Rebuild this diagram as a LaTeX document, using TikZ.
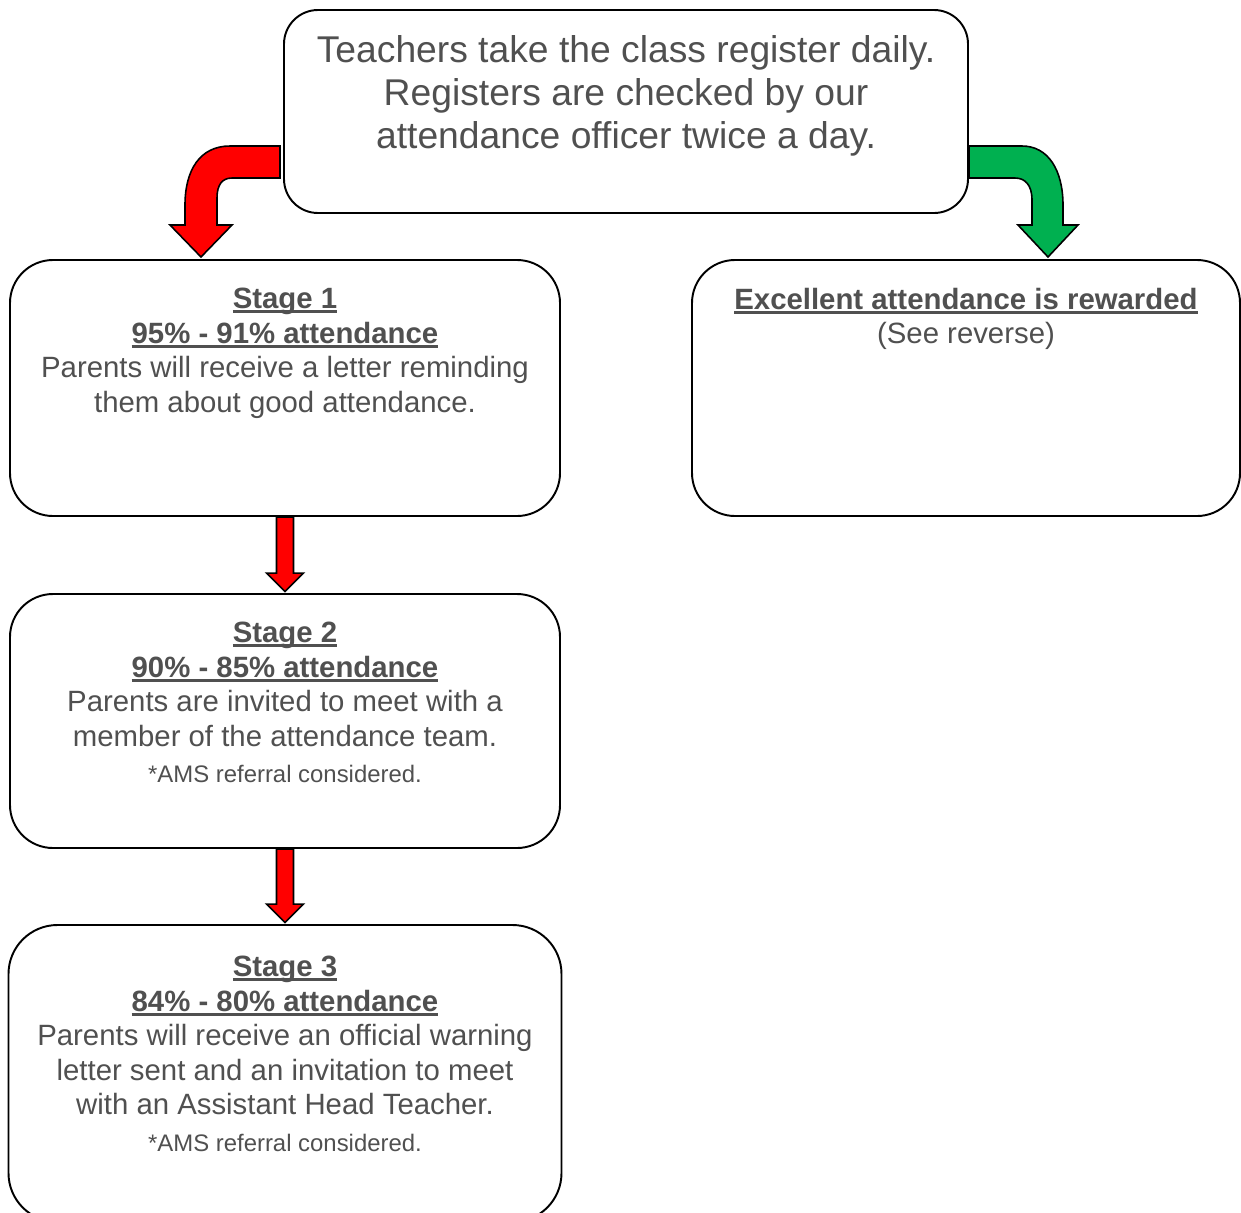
\documentclass[tikz,border=0pt]{standalone}
\usepackage{fontspec}
\setmainfont{Liberation Sans}
\usetikzlibrary{positioning, calc}
\definecolor{textgrey}{RGB}{80,80,80}
\definecolor{rewardgreen}{RGB}{0,176,80}
\newcommand{\ulhead}[1]{\textbf{\setbox0\hbox{#1}\rlap{\rule[-0.17em]{\wd0}{0.1em}}\box0}}

\begin{document}
\begin{tikzpicture}[node distance=0.57cm, every node/.style={text=textgrey}]
\tikzstyle{panel} = [draw=black, line width=1.1pt, fill=white, inner sep=0pt]
\tikzstyle{stagetext} = [inner sep=0pt, align=center, font=\fontsize{16.7}{19.7}\selectfont]
\tikzstyle{bendarrow} = [draw=black, line width=0.9pt]
\tikzstyle{downarrow} = [draw=black, line width=0.9pt, fill=red,
  to path={($(\tikztostart)+(-0.17,0)$) -- ($(\tikztotarget)+(-0.17,0.4)$)
    -- ($(\tikztotarget)+(-0.37,0.4)$) -- ($(\tikztotarget)+(0,0.03)$)
    -- ($(\tikztotarget)+(0.37,0.4)$) -- ($(\tikztotarget)+(0.17,0.4)$)
    -- ($(\tikztostart)+(0.17,0)$) -- cycle}]

\useasboundingbox (0,0) rectangle (24.82,-24.24);

% boxes
\node[panel, rounded corners=0.68cm, minimum width=13.68cm, minimum height=4.06cm] (top) at (12.52,-2.23) {};
\node[panel, rounded corners=0.86cm, minimum width=11cm, minimum height=5.12cm] (stage1) at (5.7,-7.76) {};
\node[panel, rounded corners=0.86cm, minimum width=10.96cm, minimum height=5.12cm] (reward) at (19.32,-7.76) {};
\node[panel, rounded corners=0.86cm, minimum width=11cm, minimum height=5.08cm] (stage2) at (5.7,-14.42) {};
\node[panel, rounded corners=0.98cm, minimum width=11.06cm, minimum height=5.94cm] (stage3) at (5.7,-21.47) {};

% texts
\node[inner sep=0pt, align=center, font=\fontsize{21.2}{24.5}\selectfont, below=0.53cm of top.north] (toptext)
  {Teachers take the class register daily.\\Registers are checked by our\\attendance officer twice a day.};
\node[stagetext, below=of stage1.north] (stage1text)
  {\ulhead{Stage 1}\\\ulhead{95\% - 91\% attendance}\\Parents will receive a letter reminding\\them about good attendance.};
\node[stagetext, below=of reward.north] (rewardtext)
  {\ulhead{Excellent attendance is rewarded}\\(See reverse)};
\node[stagetext, below=of stage2.north] (stage2text)
  {\ulhead{Stage 2}\\\ulhead{90\% - 85\% attendance}\\Parents are invited to meet with a\\member of the attendance team.\\[1pt]
   {\fontsize{13.6}{16}\selectfont *AMS referral considered.}};
\node[stagetext, below=0.63cm of stage3.north] (stage3text)
  {\ulhead{Stage 3}\\\ulhead{84\% - 80\% attendance}\\Parents will receive an official warning\\letter sent and an invitation to meet\\with an Assistant Head Teacher.\\[1pt]
   {\fontsize{13.6}{16}\selectfont *AMS referral considered.}};

% arrows
\filldraw[bendarrow, fill=red] (5.6,-2.92) -- (4.6,-2.92) .. controls (4.0,-2.92) and (3.7,-3.4) .. (3.7,-4.1)
  -- (3.7,-4.5) -- (3.4,-4.5) -- (4.02,-5.14) -- (4.64,-4.5) -- (4.34,-4.5) -- (4.34,-3.96)
  .. controls (4.34,-3.7) and (4.44,-3.56) .. (4.64,-3.56) -- (5.6,-3.56) -- cycle;
\filldraw[bendarrow, fill=rewardgreen] (19.38,-2.92) -- (20.44,-2.92) .. controls (20.96,-2.92) and (21.26,-3.4) .. (21.26,-4.1)
  -- (21.26,-4.5) -- (21.56,-4.5) -- (20.96,-5.14) -- (20.36,-4.5) -- (20.64,-4.5) -- (20.64,-4.0)
  .. controls (20.64,-3.7) and (20.5,-3.56) .. (20.3,-3.56) -- (19.38,-3.56) -- cycle;
\draw[downarrow] (stage1.south) to (stage2.north);
\draw[downarrow] (stage2.south) to (stage3.north);

\end{tikzpicture}
\end{document}
